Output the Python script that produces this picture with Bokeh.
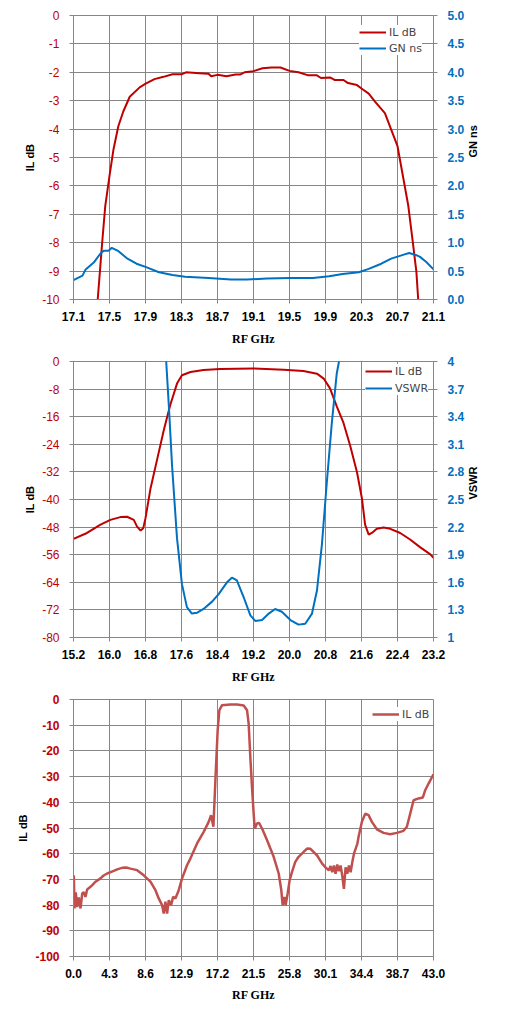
import math
from bokeh.plotting import figure
from bokeh.models import Range1d, LinearAxis, FixedTicker, Legend, LegendItem
from bokeh.layouts import column
from bokeh.embed import file_html
from bokeh.resources import INLINE

# ---------------- data ----------------
# Chart 1: IL dB and group delay (GN ns)
c1_xticks = [17.1, 17.5, 17.9, 18.3, 18.7, 19.1, 19.5, 19.9, 20.3, 20.7, 21.1]
c1_xlabels = ["17.1", "17.5", "17.9", "18.3", "18.7", "19.1", "19.5", "19.9", "20.3", "20.7", "21.1"]
c1_lticks = [0, -1, -2, -3, -4, -5, -6, -7, -8, -9, -10]
c1_llabels = ["0", "-1", "-2", "-3", "-4", "-5", "-6", "-7", "-8", "-9", "-10"]
c1_rticks = [0.0, 0.5, 1.0, 1.5, 2.0, 2.5, 3.0, 3.5, 4.0, 4.5, 5.0]
c1_rlabels = ["0.0", "0.5", "1.0", "1.5", "2.0", "2.5", "3.0", "3.5", "4.0", "4.5", "5.0"]

c1_il_f = [17.34, 17.369, 17.416, 17.453, 17.5, 17.544, 17.598, 17.653, 17.725, 17.835, 17.907,
           18.0, 18.1, 18.2, 18.3, 18.35, 18.5, 18.6, 18.63, 18.7, 18.8, 18.9, 18.95, 19.0, 19.1,
           19.2, 19.3, 19.4, 19.5, 19.6, 19.7, 19.8, 19.85, 19.95, 20.0, 20.1, 20.15, 20.25, 20.3,
           20.38, 20.45, 20.56, 20.63, 20.7, 20.74, 20.82, 20.87, 20.91, 20.93, 20.95]
c1_il = [-11.0, -10.0, -8.1, -6.7, -5.65, -4.72, -3.9, -3.38, -2.86, -2.53, -2.39,
         -2.24, -2.16, -2.07, -2.07, -2.0, -2.03, -2.05, -2.14, -2.09, -2.14, -2.08, -2.08, -2.0, -1.96,
         -1.86, -1.83, -1.83, -1.95, -2.0, -2.1, -2.1, -2.2, -2.18, -2.27, -2.27, -2.38, -2.45, -2.57,
         -2.75, -3.03, -3.44, -4.02, -4.6, -5.3, -6.7, -7.98, -9.03, -10.0, -11.0]

c1_gn_f = [17.1, 17.2, 17.235, 17.325, 17.4, 17.435, 17.49, 17.525, 17.6, 17.69, 17.8, 17.907,
           18.05, 18.2, 18.34, 18.6, 18.85, 19.03, 19.25, 19.5, 19.76, 19.94, 20.09, 20.27, 20.38,
           20.52, 20.63, 20.71, 20.77, 20.83, 20.91, 20.95, 21.02, 21.1]
c1_gn = [0.34, 0.42, 0.53, 0.65, 0.81, 0.86, 0.86, 0.91, 0.85, 0.73, 0.63, 0.57,
         0.48, 0.43, 0.40, 0.38, 0.35, 0.35, 0.37, 0.38, 0.38, 0.41, 0.45, 0.48, 0.54,
         0.63, 0.72, 0.76, 0.79, 0.82, 0.78, 0.75, 0.66, 0.53]

# Chart 2: IL dB and VSWR
c2_xticks = [15.2, 16.0, 16.8, 17.6, 18.4, 19.2, 20.0, 20.8, 21.6, 22.4, 23.2]
c2_xlabels = ["15.2", "16.0", "16.8", "17.6", "18.4", "19.2", "20.0", "20.8", "21.6", "22.4", "23.2"]
c2_lticks = [0, -8, -16, -24, -32, -40, -48, -56, -64, -72, -80]
c2_llabels = ["0", "-8", "-16", "-24", "-32", "-40", "-48", "-56", "-64", "-72", "-80"]
c2_rticks = [1, 1.3, 1.6, 1.9, 2.2, 2.5, 2.8, 3.1, 3.4, 3.7, 4]
c2_rlabels = ["1", "1.3", "1.6", "1.9", "2.2", "2.5", "2.8", "3.1", "3.4", "3.7", "4"]

c2_il_f = [15.2, 15.5, 15.8, 16.02, 16.24, 16.39, 16.54, 16.61, 16.69, 16.75, 16.8, 16.91, 17.06,
           17.21, 17.35, 17.5, 17.61, 17.8, 18.09, 18.46, 19.2, 19.87, 20.31, 20.61, 20.76, 20.9,
           21.05, 21.2, 21.35, 21.5, 21.61, 21.68, 21.76, 21.83, 21.94, 22.09, 22.24, 22.46, 22.68,
           22.9, 23.13, 23.2]
c2_il = [-51.4, -49.7, -47.3, -45.9, -45.1, -45.0, -45.9, -47.8, -49.0, -48.3, -45.4, -36.9, -28.3,
         -19.7, -12.6, -6.4, -4.0, -3.05, -2.48, -2.2, -2.0, -2.38, -2.76, -3.52, -4.95, -7.8,
         -13.0, -17.8, -24.5, -32.1, -39.7, -47.3, -50.2, -49.7, -48.5, -48.1, -48.5, -49.7, -51.6,
         -53.8, -55.9, -56.9]

c2_vswr_f = [17.235, 17.26, 17.32, 17.39, 17.5, 17.61, 17.72, 17.83, 17.95, 18.09, 18.28, 18.43,
             18.61, 18.72, 18.83, 18.98, 19.13, 19.24, 19.39, 19.54, 19.68, 19.83, 20.02, 20.2,
             20.35, 20.5, 20.61, 20.72, 20.83, 20.94, 21.05, 21.1, 21.14]
c2_vswr = [4.08, 4.0, 3.51, 2.87, 2.08, 1.58, 1.33, 1.26, 1.27, 1.31, 1.39, 1.475,
           1.6, 1.65, 1.62, 1.44, 1.24, 1.18, 1.19, 1.26, 1.31, 1.28, 1.19, 1.14,
           1.15, 1.26, 1.51, 2.01, 2.69, 3.33, 3.87, 4.0, 4.12]

# Chart 3: wideband IL dB
c3_xticks = [0.0, 4.3, 8.6, 12.9, 17.2, 21.5, 25.8, 30.1, 34.4, 38.7, 43.0]
c3_xlabels = ["0.0", "4.3", "8.6", "12.9", "17.2", "21.5", "25.8", "30.1", "34.4", "38.7", "43.0"]
c3_yticks = [0, -10, -20, -30, -40, -50, -60, -70, -80, -90, -100]
c3_ylabels = ["0", "-10", "-20", "-30", "-40", "-50", "-60", "-70", "-80", "-90", "-100"]

c3_f = [0.0, 0.04, 0.12, 0.27, 0.44, 0.63, 0.84, 1.04, 1.23, 1.43, 1.63, 2.03, 2.3, 2.63, 3.22,
        3.6, 4.02, 4.81, 5.3, 5.81, 6.3, 6.8, 7.6, 8.39, 9.19, 9.79, 10.18, 10.58, 10.78, 10.98,
        11.18, 11.38, 11.66, 11.9, 12.17, 12.57, 12.97, 13.56, 13.96, 14.76, 15.55, 16.15, 16.43,
        16.59, 16.71, 16.95, 17.22, 17.42, 17.74, 18.74, 19.53, 20.33, 20.73, 20.92, 21.12, 21.32,
        21.52, 21.64, 21.76, 21.92, 22.16, 22.52, 23.11, 23.91, 24.51, 24.82, 24.98, 25.18, 25.34,
        25.58, 25.82, 26.1, 26.49, 26.89, 27.49, 27.89, 28.3, 28.88, 29.1, 29.7, 30.1, 30.5, 30.7,
        30.9, 31.1, 31.3, 31.5, 31.7, 31.9, 32.1, 32.3, 32.5, 32.7, 32.9, 33.1, 33.3, 33.5, 33.9,
        34.05, 34.45, 34.85, 35.24, 35.64, 36.24, 37.03, 37.83, 38.63, 39.42, 39.82, 40.22, 40.62,
        41.21, 41.73, 42.01, 42.41, 43.0]
c3_il = [-69.0, -68.5, -81.3, -75.0, -80.8, -77.0, -81.3, -75.5, -75.0, -76.8, -73.9, -72.9, -72.0,
         -70.9, -69.6, -68.5, -67.7, -66.7, -66.0, -65.5, -65.4, -65.8, -66.4, -68.4, -70.9, -74.2,
         -77.4, -80.0, -83.3, -78.7, -83.3, -78.1, -80.0, -76.8, -77.4, -74.2, -69.6, -64.5, -61.9,
         -56.0, -51.5, -47.6, -45.0, -47.6, -49.5, -31.4, -11.9, -4.2, -2.2, -1.95, -1.95, -2.33,
         -4.2, -9.3, -22.3, -34.0, -44.4, -50.2, -49.5, -48.2, -48.0, -50.2, -54.7, -61.2, -67.7,
         -74.2, -80.0, -76.8, -80.0, -75.5, -70.3, -67.1, -63.2, -61.2, -59.3, -58.0, -58.1, -60.0,
         -60.7, -63.9, -65.3, -66.5, -64.8, -67.2, -64.6, -67.8, -64.2, -66.8, -64.6, -68.5, -73.7,
         -65.3, -67.8, -64.6, -67.2, -63.3, -60.0, -56.2,
         -53.4, -47.6, -44.4, -45.0, -47.6, -50.5, -51.9, -52.4, -51.9,
         -51.1, -49.5, -44.4, -39.2, -38.5, -38.1, -35.3, -32.7, -29.1]

# ---------------- style ----------------
RED = "#C00000"
BLUE = "#0070C0"
RED3 = "#C0504D"
GRID = "#868686"
TICKFONT = "Liberation Sans"
W = 505


def style_axis(ax, color, bold, label=None, lstand=7, astand=7):
    ax.axis_line_color = GRID
    ax.major_tick_line_color = GRID
    ax.minor_tick_line_color = None
    ax.major_tick_out = 4
    ax.major_tick_in = 0
    ax.major_label_standoff = lstand
    ax.major_label_text_font = TICKFONT
    ax.major_label_text_font_size = "12px"
    ax.major_label_text_color = color
    ax.major_label_text_font_style = "bold" if bold else "normal"
    if label is not None:
        ax.axis_label = label
        ax.axis_label_text_font = TICKFONT
        ax.axis_label_text_font_size = "11px"
        ax.axis_label_text_font_style = "bold"
        ax.axis_label_text_color = "black"
        ax.axis_label_standoff = astand


def make_fig(h, xr, yr, bl, br, bt, bb):
    p = figure(width=W, height=h, output_backend="svg", toolbar_location=None,
               x_range=Range1d(*xr), y_range=Range1d(*yr),
               min_border_left=bl, min_border_right=br, min_border_top=bt, min_border_bottom=bb)
    p.outline_line_color = GRID
    p.background_fill_color = "white"
    p.xgrid.grid_line_color = GRID
    p.ygrid.grid_line_color = GRID
    p.xgrid.grid_line_width = 1
    p.ygrid.grid_line_width = 1
    return p


def xaxis_setup(p, ticks, labels, astand):
    ax = p.xaxis[0]
    ax.ticker = FixedTicker(ticks=ticks)
    ax.major_label_overrides = {t: l for t, l in zip(ticks, labels)}
    style_axis(ax, "black", True, lstand=8)
    ax.axis_label = "RF GHz"
    ax.axis_label_text_font = "Liberation Serif"
    ax.axis_label_text_font_size = "12px"
    ax.axis_label_text_font_style = "bold"
    ax.axis_label_text_color = "black"
    ax.axis_label_standoff = astand


def left_axis(p, ticks, labels, bold):
    ax = p.yaxis[0]
    ax.ticker = FixedTicker(ticks=ticks)
    ax.major_label_overrides = {t: l for t, l in zip(ticks, labels)}
    style_axis(ax, RED, bold, "IL dB", lstand=10, astand=3)


def right_axis(p, rng, ticks, labels, title):
    ax = LinearAxis(y_range_name=rng, ticker=FixedTicker(ticks=ticks))
    ax.major_label_overrides = {t: l for t, l in zip(ticks, labels)}
    style_axis(ax, BLUE, True, title, lstand=10, astand=6)
    try:
        ax.axis_label_orientation = math.pi / 2
    except Exception:
        pass
    p.add_layout(ax, "right")


def make_legend(p, items, loc, spacing):
    lg = Legend(items=items, location=loc)
    lg.border_line_color = None
    lg.background_fill_color = "white"
    lg.background_fill_alpha = 1
    lg.label_text_font = "DejaVu Sans"
    lg.label_text_font_size = "11px"
    lg.glyph_width = 27
    lg.glyph_height = 14
    lg.label_height = 14
    lg.label_standoff = 3
    lg.spacing = spacing
    lg.padding = 3
    lg.margin = 0
    p.add_layout(lg)


# ---------------- chart 1 ----------------
p1 = make_fig(348, (17.1, 21.1), (-10, 0), 69, 69, 15, 47)
p1.extra_y_ranges = {"gn": Range1d(0, 5)}
xaxis_setup(p1, c1_xticks, c1_xlabels, 8)
left_axis(p1, c1_lticks, c1_llabels, False)
right_axis(p1, "gn", c1_rticks, c1_rlabels, "GN ns")
l1a = p1.line(c1_il_f, c1_il, line_color=RED, line_width=2)
l1b = p1.line(c1_gn_f, c1_gn, line_color=BLUE, line_width=2, y_range_name="gn")
make_legend(p1, [LegendItem(label="IL dB", renderers=[l1a]),
                 LegendItem(label="GN ns", renderers=[l1b])], (286, 244), 2)

# ---------------- chart 2 ----------------
p2 = make_fig(338, (15.2, 23.2), (-80, 0), 73, 72, 13, 45)
p2.extra_y_ranges = {"vswr": Range1d(1, 4)}
xaxis_setup(p2, c2_xticks, c2_xlabels, 8)
left_axis(p2, c2_lticks, c2_llabels, False)
right_axis(p2, "vswr", c2_rticks, c2_rlabels, "VSWR")
l2a = p2.line(c2_il_f, c2_il, line_color=RED, line_width=2)
l2b = p2.line(c2_vswr_f, c2_vswr, line_color=BLUE, line_width=2, y_range_name="vswr")
make_legend(p2, [LegendItem(label="IL dB", renderers=[l2a]),
                 LegendItem(label="VSWR", renderers=[l2b])], (292, 242), 3)

# ---------------- chart 3 ----------------
p3 = make_fig(333, (0, 43), (-100, 0), 73, 72, 13, 63)
xaxis_setup(p3, c3_xticks, c3_xlabels, 7)
left_axis(p3, c3_yticks, c3_ylabels, True)
l3 = p3.line(c3_f, c3_il, line_color=RED3, line_width=2.5)
make_legend(p3, [LegendItem(label="IL dB", renderers=[l3])], (299, 235), 3)

layout = column(p1, p2, p3, spacing=0)
open("out.html", "w").write(file_html(layout, INLINE))
